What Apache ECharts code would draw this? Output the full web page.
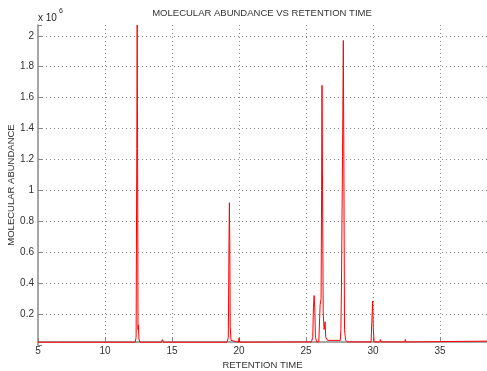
<!DOCTYPE html>
<html>
<head>
<meta charset="utf-8">
<script src="https://cdn.jsdelivr.net/npm/echarts@6/dist/echarts.min.js"></script>
<style>html,body{margin:0;padding:0;background:#fff}#c{width:487px;height:371px}</style>
</head>
<body>
<div id="c"></div>
<script>
// Retention time (minutes)
const retentionTime = [
  5.0, 6.4, 6.5, 6.6, 9.5, 9.55, 9.6,
  12.25, 12.32, 12.37, 12.40, 12.43, 12.46, 12.49, 12.53, 12.6,
  14.2, 14.28, 14.35,
  19.1, 19.2, 19.25, 19.28, 19.31, 19.34, 19.4, 19.5,
  19.95, 20.0, 20.05,
  25.4, 25.5, 25.55, 25.6, 25.65, 25.7, 25.8,
  25.95, 26.05, 26.12, 26.16, 26.19, 26.23, 26.28, 26.35, 26.42, 26.47, 26.6,
  27.55, 27.6, 27.64, 27.72, 27.78, 27.82, 27.87, 27.95, 28.1,
  29.85, 29.92, 29.97, 30.02, 30.08,
  30.5, 30.55, 30.6,
  32.35, 32.4, 32.45,
  32.95, 33.0, 33.05,
  35.0, 38.5];
// Molecular abundance (x 10^6)
const abundance = [
  0.018, 0.018, 0.03, 0.018, 0.018, 0.026, 0.018,
  0.018, 0.05, 1.27, 2.07, 1.27, 0.10, 0.13, 0.04, 0.018,
  0.018, 0.035, 0.018,
  0.018, 0.05, 0.67, 0.92, 0.67, 0.12, 0.03, 0.018,
  0.018, 0.045, 0.018,
  0.02, 0.05, 0.24, 0.32, 0.24, 0.05, 0.02,
  0.02, 0.26, 0.30, 1.0, 1.68, 1.0, 0.2, 0.1, 0.15, 0.05, 0.03,
  0.03, 0.1, 0.38, 1.22, 1.97, 1.2, 0.1, 0.03, 0.02,
  0.02, 0.18, 0.285, 0.1, 0.02,
  0.02, 0.035, 0.02,
  0.02, 0.035, 0.02,
  0.02, 0.03, 0.02,
  0.022, 0.025];
const xTicks = [5, 10, 15, 20, 25, 30, 35];
const yTicks = [0.2, 0.4, 0.6, 0.8, 1, 1.2, 1.4, 1.6, 1.8, 2];

const FONT = 'Liberation Sans, Arial, sans-serif';
const pts = retentionTime.map((t, i) => [t, abundance[i]]);
const chart = echarts.init(document.getElementById('c'), null, {renderer: 'canvas'});
chart.setOption({
  animation: false,
  backgroundColor: '#fff',
  grid: {left: 38, right: 0, top: 25, bottom: 26, containLabel: false, outerBoundsMode: 'none'},
  graphic: [
    {type: 'text', x: 262, y: 13, style: {text: 'MOLECULAR ABUNDANCE VS RETENTION TIME', fill: '#333', font: '9.5px ' + FONT, align: 'center', verticalAlign: 'middle'}},
    {type: 'text', x: 38, y: 18, style: {text: 'x 10', fill: '#222', font: '10px ' + FONT, align: 'left', verticalAlign: 'middle'}},
    {type: 'text', x: 59, y: 11, style: {text: '6', fill: '#222', font: '7px ' + FONT, align: 'left', verticalAlign: 'middle'}}
  ],
  xAxis: {
    type: 'value', min: 5, max: 38.5, interval: 5, offset: -3,
    name: 'RETENTION TIME', nameLocation: 'middle', nameGap: 18, nameMoveOverlap: false,
    nameTextStyle: {fontFamily: FONT, fontSize: 9.5, color: '#333'},
    axisLine: {show: true, lineStyle: {color: '#888', width: 1.5}},
    axisTick: {show: true, inside: true, length: 4, lineStyle: {color: '#888'}},
    axisLabel: {margin: 4, fontFamily: FONT, fontSize: 10, color: '#333',
      formatter: v => xTicks.indexOf(Math.round(v * 1000) / 1000) >= 0 ? String(v) : ''},
    splitLine: {show: true, showMinLine: false, showMaxLine: false, lineStyle: {type: [1, 3], color: '#888', width: 1}}
  },
  yAxis: {
    type: 'value', min: 0, max: 2.07, interval: 0.2,
    name: 'MOLECULAR ABUNDANCE', nameLocation: 'middle', nameGap: 22, nameMoveOverlap: false,
    nameTextStyle: {fontFamily: FONT, fontSize: 9.5, color: '#333'},
    axisLine: {show: true, lineStyle: {color: '#888', width: 1.5}},
    axisTick: {show: true, inside: true, length: 4, lineStyle: {color: '#888'}},
    axisLabel: {margin: 4, fontFamily: FONT, fontSize: 10, color: '#333',
      formatter: v => {
        const r = Math.round(v * 10) / 10;
        return yTicks.some(t => Math.abs(t - v) < 1e-6) ? String(r) : '';
      }},
    splitLine: {show: true, showMinLine: false, showMaxLine: false, lineStyle: {type: [1, 3], color: '#888', width: 1}}
  },
  series: [{
    type: 'line', data: pts, symbol: 'none', clip: true,
    lineStyle: {color: '#ff0000', width: 1}
  }]
});
</script>
</body>
</html>
